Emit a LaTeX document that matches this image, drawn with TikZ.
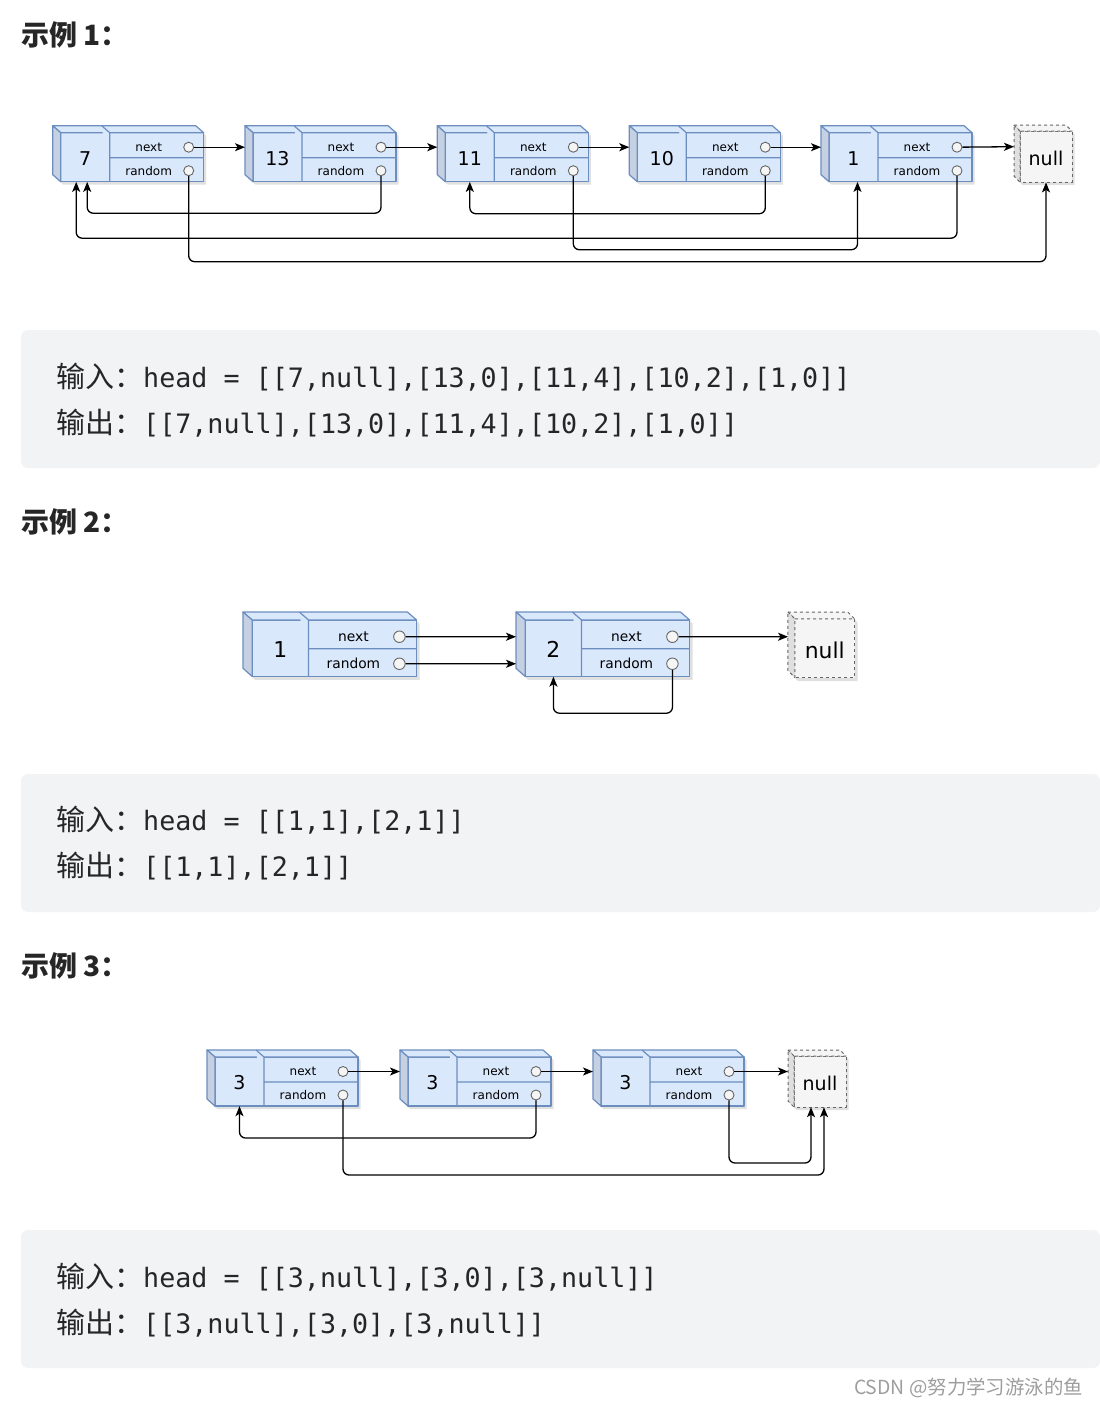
\documentclass[tikz,border=0pt]{standalone}
\usepackage{fontspec}
\setmonofont{DejaVu Sans Mono}
\newfontfamily\cjkfont{Noto Sans CJK SC}
\newfontfamily\cellfont{DejaVu Sans}
\usetikzlibrary{arrows.meta}

\definecolor{cubefill}{HTML}{DAE8FC}
\definecolor{cubeline}{HTML}{6C8EBF}
\definecolor{cubeside}{HTML}{C5D0E2}
\definecolor{nullfill}{HTML}{F5F5F5}
\definecolor{nullline}{HTML}{666666}
\definecolor{nullside}{HTML}{DFDFDF}
\definecolor{codebg}{HTML}{F2F3F5}

\newcommand{\zh}[1]{{\cjkfont\fontsize{29}{32}\selectfont #1}}

% one list cell: name, top-left corner, value
\newcommand{\cellnode}[3]{%
  \begin{scope}[shift={#2}]
    \fill[cube shadow,shift={(2.5,3)}] (0,0) -- (143,0) -- (151,7) -- (151,56) -- (8,56) -- (0,49) -- cycle;
    \draw[cube face] (8,7) rectangle (151,56);
    \draw[cube face] (0,0) -- (143,0) -- (151,7) -- (8,7) -- cycle;
    \draw[cube side] (0,0) -- (8,7) -- (8,56) -- (0,49) -- cycle;
    \draw[cube face] (49,0) -- (57,7) -- (57,56) (57,32) -- (151,32);
    \node[val text] (#1) at (32.5,32.5) {#3};
    \node[field text] (#1-nt) at (96,21.5) {next};
    \node[field text] (#1-rt) at (96,45) {random};
    \node[port] (#1-nx) at (136,21.5) {};
    \node[port] (#1-rd) at (136,45) {};
    \coordinate (#1-in) at (0,21.5);
  \end{scope}}

% the null cell: name, top-left corner
\newcommand{\nullnode}[2]{%
  \begin{scope}[shift={#2}]
    \fill[cube shadow,shift={(2.5,3)}] (0,0) -- (52,0) -- (58,6) -- (58,57) -- (6,57) -- (0,51) -- cycle;
    \draw[null face] (6,6) rectangle (58,57);
    \draw[null face] (0,0) -- (52,0) -- (58,6) -- (6,6) -- cycle;
    \draw[null side] (0,0) -- (6,6) -- (6,57) -- (0,51) -- cycle;
    \node[val text,minimum width=52pt,minimum height=47pt] (#1) at (32,33.5) {null};
    \coordinate (#1-in) at (0,21.5);
  \end{scope}}

\begin{document}
\begin{tikzpicture}[x=1pt,y=-1pt,
    cube face/.style={draw=cubeline,fill=cubefill,line width=1.2pt,line join=round},
    cube side/.style={cube face,fill=cubeside},
    null face/.style={draw=nullline,fill=nullfill,line width=1pt,dashed,line join=round},
    null side/.style={null face,fill=nullside},
    cube shadow/.style={fill=black,opacity=0.12},
    val text/.style={inner sep=0,minimum width=49pt,minimum height=47pt,font=\cellfont\fontsize{19}{22}\selectfont},
    field text/.style={inner sep=0,font=\cellfont\fontsize{12}{14}\selectfont},
    port/.style={circle,draw=nullline,fill=nullfill,line width=0.9pt,minimum size=10pt,inner sep=0},
    link/.style={-{Stealth[length=10pt,width=8pt,inset=2.5pt]},line width=1.3pt,rounded corners=6pt},
    heading/.style={anchor=base west,inner sep=0,font=\cjkfont\bfseries\fontsize{28}{30}\selectfont,text=black!85},
    code/.style={anchor=base west,inner sep=0,font=\ttfamily\fontsize{26.7}{30}\selectfont,text=black!85},
    code box/.style={fill=codebg,rounded corners=7pt},
]
    \useasboundingbox (0,0) rectangle (1100,1406);
    \fill[white] (0,0) rectangle (1100,1406);

    % Example 1
    \node[heading] (hd1) at (21,45) {示例 1：};
    \cellnode{a7}{(52.7,125.7)}{7}
    \cellnode{a13}{(245,125.7)}{13}
    \cellnode{a11}{(437.3,125.7)}{11}
    \cellnode{a10}{(629.3,125.7)}{10}
    \cellnode{a1}{(821,125.7)}{1}
    \nullnode{anull}{(1014,125.2)}
    \draw[link] (a7-nx) -- (a13-in);
    \draw[link] (a13-nx) -- (a11-in);
    \draw[link] (a11-nx) -- (a10-in);
    \draw[link] (a10-nx) -- (a1-in);
    \draw[link] (a1-nx) -- (anull-in);
    \draw[link] (a13-rd) -- ++(0,42.5) -| ([xshift=2]a7.south);
    \draw[link] (a1-rd) -- ++(0,67.5) -| ([xshift=-9]a7.south);
    \draw[link] (a7-rd) -- ++(0,91) -| (anull.south);
    \draw[link] (a10-rd) -- ++(0,43) -| (a11.south);
    \draw[link] (a11-rd) -- ++(0,79) -| ([xshift=4]a1.south);

    \fill[code box] (21,330) rectangle (1100,468);
    \node[code] (in1) at (56,387) {\zh{输入：}head = [[7,null],[13,0],[11,4],[10,2],[1,0]]};
    \node[code] (out1) at (56,433) {\zh{输出：}[[7,null],[13,0],[11,4],[10,2],[1,0]]};

    % Example 2
    \node[heading] (hd2) at (21,532) {示例 2：};
    \begin{scope}[shift={(243,612)},scale=1.15,transform shape]
        \cellnode{b1}{(0,0)}{1}
        \cellnode{b2}{(237.4,0)}{2}
        \nullnode{bnull}{(473.9,0)}
        \draw[link] (b1-nx) -- (b2-in);
        \draw[link] (b1-rd) -- (b1-rd -| b2-in);
        \draw[link] (b2-nx) -- (bnull-in);
        \draw[link] (b2-rd) -- ++(0,43) -| (b2.south);
    \end{scope}

    \fill[code box] (21,774) rectangle (1100,912);
    \node[code] (in2) at (56,830) {\zh{输入：}head = [[1,1],[2,1]]};
    \node[code] (out2) at (56,876) {\zh{输出：}[[1,1],[2,1]]};

    % Example 3
    \node[heading] (hd3) at (21,976) {示例 3：};
    \cellnode{c1}{(207,1050)}{3}
    \cellnode{c2}{(400,1050)}{3}
    \cellnode{c3}{(593,1050)}{3}
    \nullnode{cnull}{(788,1050)}
    \draw[link] (c1-nx) -- (c2-in);
    \draw[link] (c2-nx) -- (c3-in);
    \draw[link] (c3-nx) -- (cnull-in);
    \draw[link] (c2-rd) -- ++(0,43) -| (c1.south);
    \draw[link] (c1-rd) -- ++(0,80) -| ([xshift=4]cnull.south);
    \draw[link] (c3-rd) -- ++(0,68) -| ([xshift=-9]cnull.south);

    \fill[code box] (21,1230) rectangle (1100,1368);
    \node[code] (in3) at (56,1287) {\zh{输入：}head = [[3,null],[3,0],[3,null]]};
    \node[code] (out3) at (56,1333) {\zh{输出：}[[3,null],[3,0],[3,null]]};

    \node[anchor=base east,inner sep=0,text=black!38,font=\cjkfont\fontsize{19.4}{21}\selectfont] (mark) at (1083,1394) {CSDN @努力学习游泳的鱼};
\end{tikzpicture}
\end{document}
